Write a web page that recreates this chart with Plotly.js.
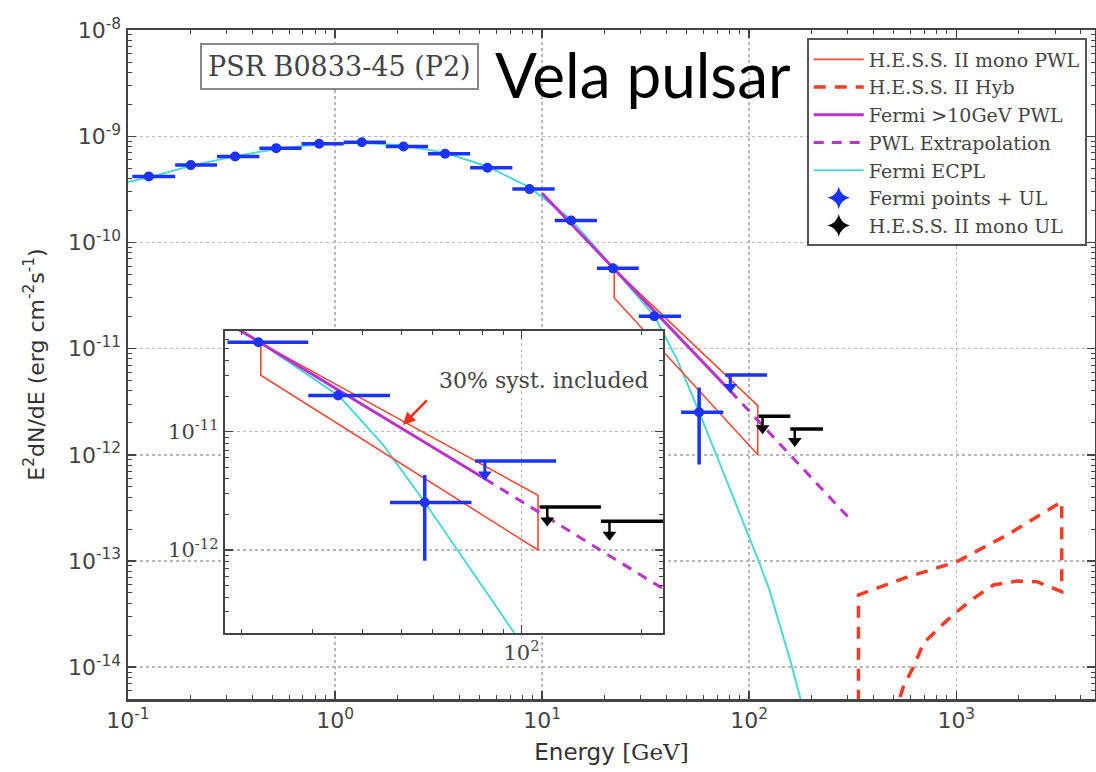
<!DOCTYPE html>
<html><head><meta charset="utf-8">
<script src="https://cdn.plot.ly/plotly-3.0.1.min.js"></script>
<style>html,body{margin:0;padding:0;background:#fff}</style>
</head><body><div id="chart" style="width:1096px;height:772px"></div>
<script>
// ---- Fermi-LAT spectral points (energy in GeV, E^2 dN/dE in erg cm^-2 s^-1)
const fermiE     = [0.126, 0.201, 0.329, 0.52, 0.838, 1.346, 2.14, 3.40, 5.44, 8.69, 13.8, 22.0, 34.8, 57.3];
const fermiFlux  = [4.19e-10, 5.35e-10, 6.46e-10, 7.73e-10, 8.5e-10, 8.8e-10, 8.0e-10, 6.84e-10, 5.06e-10, 3.18e-10, 1.61e-10, 5.7e-11, 2.02e-11, 2.52e-12];
const fermiBinLo = [0.105, 0.169, 0.269, 0.431, 0.689, 1.10, 1.76, 2.81, 4.49, 7.18, 11.5, 18.4, 29.3, 46.9];
const fermiBinHi = [0.169, 0.269, 0.431, 0.689, 1.10, 1.76, 2.81, 4.49, 7.18, 11.5, 18.4, 29.3, 46.9, 75.0];
const fermiFluxLo = [4.19e-10, 5.35e-10, 6.46e-10, 7.73e-10, 8.5e-10, 8.8e-10, 8.0e-10, 6.84e-10, 5.06e-10, 3.18e-10, 1.61e-10, 5.7e-11, 2.02e-11, 8.1e-13];
const fermiFluxHi = [4.19e-10, 5.35e-10, 6.46e-10, 7.73e-10, 8.5e-10, 8.8e-10, 8.0e-10, 6.84e-10, 5.06e-10, 3.18e-10, 1.61e-10, 5.7e-11, 2.02e-11, 4.3e-12];

// ---- Fermi upper limit
const fermiUlE = [81];
const fermiUlFlux = [5.65e-12];
const fermiUlBinLo = [76.6];
const fermiUlBinHi = [122];

// ---- H.E.S.S. II mono upper limits
const hessUlE = [116, 166];
const hessUlFlux = [2.31e-12, 1.75e-12];
const hessUlBinLo = [111, 158];
const hessUlBinHi = [158, 227];

// ---- Fermi ECPL model curve
const ecplE    = [0.1, 0.126, 0.2, 0.33, 0.52, 0.84, 1.35, 2.14, 3.4, 5.44, 8.7, 13.8, 22, 35, 45, 57, 76, 99, 111, 125, 140, 159, 177];
const ecplFlux = [3.7e-10, 4.1e-10, 5.25e-10, 6.5e-10, 7.6e-10, 8.4e-10, 8.7e-10, 8.2e-10, 7.0e-10, 5.2e-10, 3.3e-10, 1.65e-10, 5.8e-11, 2.0e-11, 7.8e-12, 2.6e-12, 6.4e-13, 1.8e-13, 1.0e-13, 5.4e-14, 2.6e-14, 1.1e-14, 5e-15];

// ---- Fermi >10 GeV power law and its extrapolation
const pwlE = [10, 81];
const pwlFlux = [2.9e-10, 4.0e-12];
const pwlExtE = [81, 300];
const pwlExtFlux = [4.0e-12, 2.6e-13];

// ---- H.E.S.S. II mono PWL band (30% syst. included)
const monoE = [22.3, 22.3, 110, 110, 22.3];
const monoFlux = [5.6e-11, 3.0e-11, 1.0e-12, 2.9e-12, 5.6e-11];

// ---- H.E.S.S. II Hybrid butterfly contour
const hybE = [337, 337, 578, 1006, 1754, 3230, 3230, 2455, 1963, 1514, 1213, 1006, 837, 695, 622, 556, 536, 505];
const hybFlux = [3e-15, 4.79e-14, 7.03e-14, 9.84e-14, 1.75e-13, 3.61e-13, 5.14e-14, 6.38e-14, 6.48e-14, 5.94e-14, 4.45e-14, 3.33e-14, 2.41e-14, 1.68e-14, 1.01e-14, 6.58e-15, 5.28e-15, 3e-15];

// ---- tick labels
const xTickVals = [0.1, 1, 10, 100, 1000];
const xTickText = ['10<sup>-1</sup>', '10<sup>0</sup>', '10<sup>1</sup>', '10<sup>2</sup>', '10<sup>3</sup>'];
const yTickVals = [1e-14, 1e-13, 1e-12, 1e-11, 1e-10, 1e-9, 1e-8];
const yTickText = ['10<sup>-14</sup>', '10<sup>-13</sup>', '10<sup>-12</sup>', '10<sup>-11</sup>', '10<sup>-10</sup>', '10<sup>-9</sup>', '10<sup>-8</sup>'];
const insetXTickVals = [100];
const insetXTickText = ['10<sup>2</sup>'];
const insetYTickVals = [1e-12, 1e-11];
const insetYTickText = ['10<sup>-12</sup>', '10<sup>-11</sup>'];

// ---- annotation arrow in the inset (tail -> tip)
const arrowTipE = 50.5, arrowTipFlux = 1.14e-11;
const arrowTailE = 58.5, arrowTailFlux = 1.89e-11;

// ---------------------------------------------------------------
const BLUE = '#1a33ff', RED = '#ff4a36', REDD = '#ff3a22', PURPLE = '#bb33cc', CYAN = '#4fd8d4';
const UL_LINE = 0.72, UL_HEAD = 0.77; // arrow length ratios for upper limits

function sub(a, b) { return a.map((v, i) => v - b[i]); }

function dataTraces(xa, ya) {
  const t = [];
  const main = xa === 'x';
  t.push({x: ecplE, y: ecplFlux, mode: 'lines', line: {color: CYAN, width: 2}, xaxis: xa, yaxis: ya,
          name: 'Fermi ECPL', legendrank: 5, showlegend: main});
  t.push({x: monoE, y: monoFlux, mode: 'lines', line: {color: RED, width: 1.6}, xaxis: xa, yaxis: ya,
          name: 'H.E.S.S. II mono PWL', legendrank: 1, showlegend: main});
  t.push({x: hybE, y: hybFlux, mode: 'lines', line: {color: REDD, width: 3.5, dash: '12px,9px'}, xaxis: xa, yaxis: ya,
          name: 'H.E.S.S. II Hyb', legendrank: 2, showlegend: main});
  t.push({x: pwlE, y: pwlFlux, mode: 'lines', line: {color: PURPLE, width: 3}, xaxis: xa, yaxis: ya,
          name: 'Fermi >10GeV PWL', legendrank: 3, showlegend: main});
  t.push({x: pwlExtE, y: pwlExtFlux, mode: 'lines', line: {color: PURPLE, width: 3, dash: '10px,8px'}, xaxis: xa, yaxis: ya,
          name: 'PWL Extrapolation', legendrank: 4, showlegend: main});
  // Fermi points
  t.push({x: fermiE, y: fermiFlux, mode: 'markers', xaxis: xa, yaxis: ya, showlegend: false,
          marker: {symbol: 'circle', size: 10, color: BLUE},
          error_x: {type: 'data', symmetric: false, array: sub(fermiBinHi, fermiE), arrayminus: sub(fermiE, fermiBinLo),
                    color: BLUE, thickness: 3.5, width: 0},
          error_y: {type: 'data', symmetric: false, array: sub(fermiFluxHi, fermiFlux), arrayminus: sub(fermiFlux, fermiFluxLo),
                    color: BLUE, thickness: 3.5, width: 0}});
  // Fermi UL
  t.push({x: fermiUlE, y: fermiUlFlux, mode: 'markers', xaxis: xa, yaxis: ya, showlegend: false,
          marker: {size: 1, color: BLUE, opacity: 0},
          error_x: {type: 'data', symmetric: false, array: sub(fermiUlBinHi, fermiUlE), arrayminus: sub(fermiUlE, fermiUlBinLo),
                    color: BLUE, thickness: 3.5, width: 0},
          error_y: {type: 'data', symmetric: false, array: fermiUlFlux.map(() => 0), arrayminus: fermiUlFlux.map(v => v * (1 - UL_LINE)),
                    color: BLUE, thickness: 3, width: 0}});
  t.push({x: fermiUlE, y: fermiUlFlux.map(v => v * UL_HEAD), mode: 'markers', xaxis: xa, yaxis: ya, showlegend: false,
          marker: {symbol: 'triangle-down', size: 12, color: BLUE}});
  // HESS UL
  t.push({x: hessUlE, y: hessUlFlux, mode: 'markers', xaxis: xa, yaxis: ya, showlegend: false,
          marker: {size: 1, color: '#000', opacity: 0},
          error_x: {type: 'data', symmetric: false, array: sub(hessUlBinHi, hessUlE), arrayminus: sub(hessUlE, hessUlBinLo),
                    color: '#000', thickness: 3.5, width: 0},
          error_y: {type: 'data', symmetric: false, array: hessUlFlux.map(() => 0), arrayminus: hessUlFlux.map(v => v * (1 - UL_LINE)),
                    color: '#000', thickness: 2.5, width: 0}});
  t.push({x: hessUlE, y: hessUlFlux.map(v => v * UL_HEAD), mode: 'markers', xaxis: xa, yaxis: ya, showlegend: false,
          marker: {symbol: 'triangle-down', size: 12, color: '#000'}});
  return t;
}

const legendMarkers = [
  {x: [null], y: [null], mode: 'markers', name: 'Fermi points + UL', legendrank: 6, marker: {symbol: 'star-diamond', size: 16, color: BLUE}},
  {x: [null], y: [null], mode: 'markers', name: 'H.E.S.S. II mono UL', legendrank: 7, marker: {symbol: 'star-diamond', size: 16, color: '#000'}}
];

const data = [].concat(dataTraces('x', 'y'), legendMarkers, dataTraces('x2', 'y2'));

const AX = '#444';
const common = {
  type: 'log', tickmode: 'array',
  ticks: 'inside', ticklen: 8, tickwidth: 1.5, tickcolor: AX,
  minor: {ticks: 'inside', ticklen: 4, tickwidth: 1, tickcolor: AX, showgrid: false, dtick: 'D1', tickmode: 'linear'},
  showgrid: true, gridcolor: '#b8b8b8', griddash: 'dot', gridwidth: 1.5,
  showline: true, linecolor: AX, linewidth: 2.5, mirror: 'allticks', zeroline: false
};

const layout = {
  width: 1096, height: 772,
  margin: {l: 128, r: 1, t: 30, b: 73},
  paper_bgcolor: '#fff', plot_bgcolor: '#fff',
  showlegend: true,
  legend: {x: 0.7019, y: 0.9873, xanchor: 'left', yanchor: 'top', bgcolor: '#fff', bordercolor: '#555', borderwidth: 2,
           font: {family: 'DejaVu Serif', size: 19, color: '#444'}, itemwidth: 50, traceorder: 'normal'},
  xaxis: Object.assign({}, common, {range: [-1.0, 3.67], domain: [0, 1], anchor: 'y',
          tickvals: xTickVals, ticktext: xTickText,
          tickfont: {family: 'DejaVu Sans', size: 22, color: '#444'},
          title: {text: 'Energy <span style="font-family:DejaVu Serif">[GeV]</span>', font: {family: 'DejaVu Sans', size: 23, color: '#333'}, standoff: 12}}),
  yaxis: Object.assign({}, common, {range: [-14.30, -7.999], domain: [0, 1], anchor: 'x',
          tickvals: yTickVals, ticktext: yTickText,
          tickfont: {family: 'DejaVu Sans', size: 22, color: '#444'},
          title: {text: 'E<sup>2</sup>dN/dE (erg cm<sup>-2</sup>s<sup>-1</sup>)', font: {family: 'DejaVu Sans', size: 22, color: '#333'}, standoff: 18}}),
  xaxis2: Object.assign({}, common, {range: [1.258, 2.354], domain: [0.1, 0.5533], anchor: 'y2', linewidth: 2,
          tickvals: insetXTickVals, ticktext: insetXTickText,
          tickfont: {family: 'DejaVu Serif', size: 21, color: '#444'}}),
  yaxis2: Object.assign({}, common, {range: [-12.699, -10.149], domain: [0.0991, 0.5501], anchor: 'x2', linewidth: 2,
          tickvals: insetYTickVals, ticktext: insetYTickText,
          tickfont: {family: 'DejaVu Serif', size: 21, color: '#444'}}),
  annotations: [
    {text: 'PSR B0833-45 (P2)', xref: 'paper', yref: 'paper', x: 0.2192, y: 0.946, xanchor: 'center', yanchor: 'middle', showarrow: false,
     font: {family: 'DejaVu Serif', size: 27, color: '#444'}, bordercolor: '#888', borderwidth: 2, borderpad: 6, bgcolor: '#fff'},
    {text: 'Vela pulsar', xref: 'paper', yref: 'paper', x: 0.5326, y: 0.934, xanchor: 'center', yanchor: 'middle', showarrow: false,
     font: {family: 'Lato', size: 62, color: '#000'}},
    {text: '30% syst. included', xref: 'paper', yref: 'paper', x: 0.430, y: 0.4767, xanchor: 'center', yanchor: 'middle', showarrow: false,
     font: {family: 'DejaVu Serif', size: 22, color: '#444'}},
    {text: '', xref: 'x2', yref: 'y2', axref: 'x2', ayref: 'y2',
     x: Math.log10(arrowTipE), y: Math.log10(arrowTipFlux), ax: Math.log10(arrowTailE), ay: Math.log10(arrowTailFlux),
     showarrow: true, arrowhead: 2, arrowsize: 1, arrowwidth: 2.5, arrowcolor: '#ff2a1a'}
  ]
};

Plotly.newPlot('chart', data, layout, {displayModeBar: false, staticPlot: true});
</script></body></html>
